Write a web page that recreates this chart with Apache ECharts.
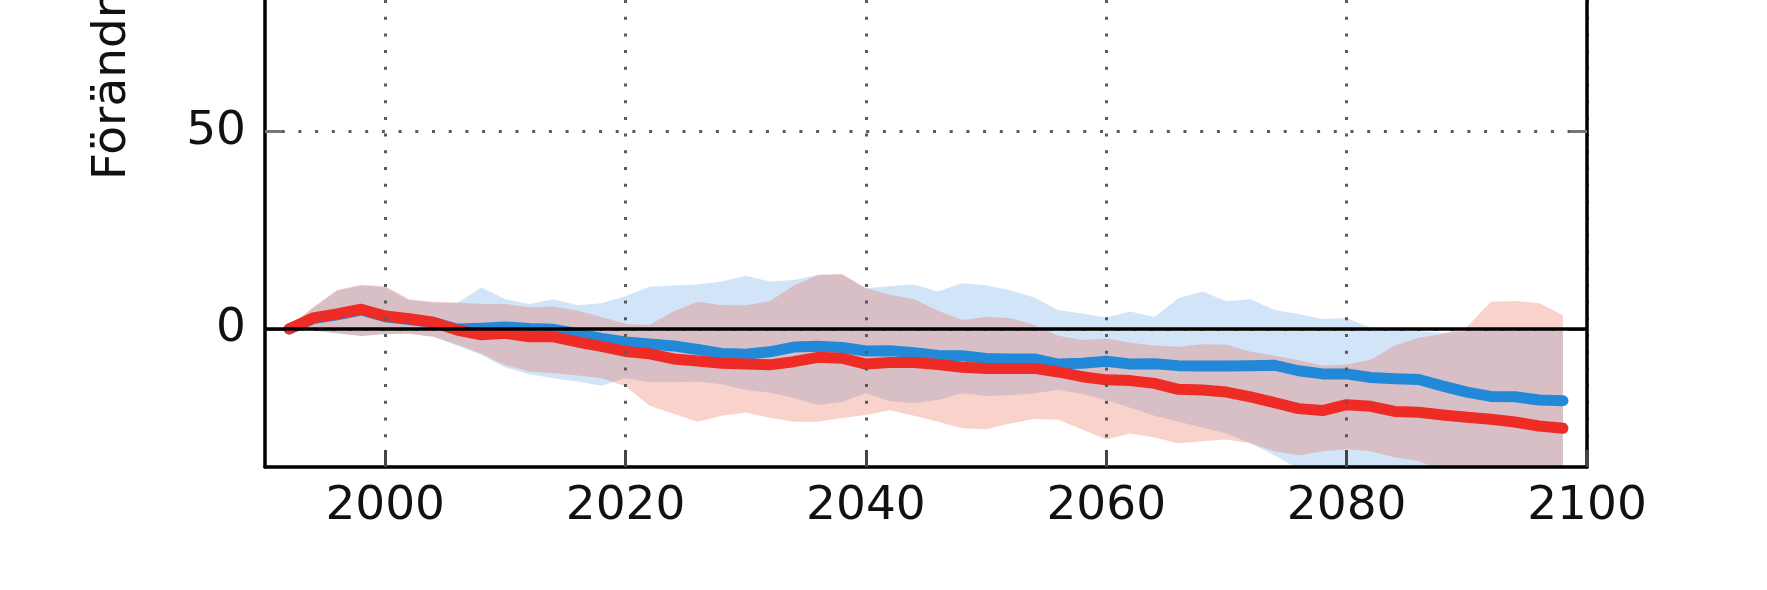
<!DOCTYPE html>
<html>
<head>
<meta charset="utf-8">
<script src="https://cdn.jsdelivr.net/npm/echarts@6/dist/echarts.min.js"></script>
<style>
html,body{margin:0;padding:0;background:#fff;}
#chart{width:1767px;height:590px;}
</style>
</head>
<body>
<div id="chart"></div>
<script>
// ---- data ----
const years = [1992,1994,1996,1998,2000,2002,2004,2006,2008,2010,2012,2014,2016,2018,2020,2022,2024,2026,2028,2030,2032,2034,2036,2038,2040,2042,2044,2046,2048,2050,2052,2054,2056,2058,2060,2062,2064,2066,2068,2070,2072,2074,2076,2078,2080,2082,2084,2086,2088,2090,2092,2094,2096,2098];
const redMean = [0.0,2.8,3.8,5.0,3.3,2.6,1.7,-0.3,-1.5,-1.1,-2.0,-2.0,-3.3,-4.4,-5.7,-6.3,-7.6,-8.1,-8.7,-8.9,-9.1,-8.3,-7.2,-7.4,-8.9,-8.5,-8.5,-9.0,-9.7,-10.0,-10.0,-10.0,-10.9,-12.1,-12.9,-13.1,-13.8,-15.3,-15.5,-16.0,-17.2,-18.7,-20.2,-20.7,-19.2,-19.6,-20.9,-21.1,-21.8,-22.4,-22.9,-23.6,-24.6,-25.2];
const blueMean = [0.0,2.6,3.6,4.8,3.1,2.4,1.6,0.0,0.2,0.5,0.1,-0.1,-1.2,-2.4,-3.3,-3.8,-4.3,-5.2,-6.2,-6.4,-5.8,-4.6,-4.4,-4.7,-5.6,-5.5,-6.0,-6.7,-6.8,-7.5,-7.6,-7.6,-8.9,-8.7,-8.2,-8.9,-8.8,-9.3,-9.4,-9.4,-9.3,-9.2,-10.6,-11.4,-11.4,-12.3,-12.6,-12.8,-14.5,-16.0,-17.1,-17.2,-18.0,-18.2];
const redHi = [0.5,5.5,9.9,11.2,10.8,7.5,6.9,6.7,6.3,6.3,5.5,5.7,4.6,3.0,1.3,1.0,4.5,6.9,6.0,6.0,7.0,11.0,13.7,14.0,10.3,8.7,7.5,4.6,2.3,3.0,2.8,1.0,-1.7,-2.8,-2.4,-3.5,-4.2,-4.5,-3.9,-4.0,-5.8,-6.8,-7.9,-9.3,-9.0,-7.8,-4.2,-2.2,-1.2,0.5,6.9,7.1,6.6,3.5];
const redLo = [-0.5,-0.4,-1.1,-1.8,-1.3,-1.2,-2.0,-4.0,-6.2,-9.2,-10.8,-11.2,-11.8,-12.5,-14.5,-19.5,-21.5,-23.5,-22.0,-21.2,-22.5,-23.5,-23.5,-22.6,-21.8,-20.6,-22.0,-23.5,-25.2,-25.4,-24.0,-22.8,-23.0,-25.5,-28.0,-26.5,-27.5,-29.0,-28.5,-28.0,-29.0,-31.0,-32.0,-31.0,-30.5,-31.0,-32.5,-33.5,-36.0,-38.0,-39.0,-39.0,-39.0,-39.0];
const blueHi = [0.5,5.3,9.7,11.0,10.6,7.3,6.7,6.6,10.5,7.5,6.3,7.5,6.0,6.5,8.3,10.7,11.0,11.3,12.0,13.5,12.0,12.4,13.7,13.8,10.3,10.8,11.3,9.5,11.6,11.1,9.8,8.0,4.8,3.9,2.9,4.4,3.0,7.8,9.5,7.0,7.5,4.8,3.8,2.5,2.8,0.3,-0.3,-0.5,-1.0,-0.6,-0.4,-0.4,-0.3,-0.3];
const blueLo = [-0.5,-0.4,-1.1,-1.8,-1.3,-1.2,-2.0,-4.2,-6.6,-9.8,-11.5,-12.5,-13.3,-14.4,-12.5,-13.5,-13.5,-13.3,-14.0,-15.5,-16.2,-17.5,-19.3,-18.5,-16.3,-18.3,-18.8,-18.0,-16.3,-17.0,-16.8,-16.3,-15.5,-16.5,-18.0,-20.0,-22.0,-23.5,-25.0,-26.5,-29.0,-32.0,-35.5,-37.0,-38.0,-38.0,-37.0,-35.5,-37.0,-39.0,-40.0,-40.0,-40.0,-40.0];
const xTicks = [2000,2020,2040,2060,2080,2100];
const yTicks = [0,50];
const yLabel = 'Förändring (%)';

// ---- chart ----
const chart = echarts.init(document.getElementById('chart'), null, {renderer:'canvas'});
const FONT = 'DejaVu Sans';

function pairs(vals){ return years.map((y,i)=>[y, vals[i]]); }

function bandSeries(lo, hi, color){
  return {
    type:'custom', coordinateSystem:'cartesian2d', silent:true, z:1,
    data:[[years[0], lo[0]]],
    renderItem:function(params, api){
      const pts = [];
      for (let i=0;i<years.length;i++) pts.push(api.coord([years[i], hi[i]]));
      for (let i=years.length-1;i>=0;i--) pts.push(api.coord([years[i], lo[i]]));
      const cs = params.coordSys;
      return {
        type:'polygon', shape:{points:pts}, style:{fill:color},
        clipPath:{type:'rect', shape:{x:cs.x, y:cs.y, width:cs.width, height:cs.height}}
      };
    }
  };
}

const dotted = {color:'#5a5a5a', width:3, type:[3,13.7]};

chart.setOption({
  animation:false,
  backgroundColor:'#fff',
  grid:{left:265, right:180, top:0, bottom:123, outerBoundsMode:'none', containLabel:false},
  xAxis:{
    type:'value', min:1990, max:2100, z:3,
    axisLine:{show:true, onZero:false, lineStyle:{color:'#000', width:3.5}},
    axisTick:{show:true, inside:true, length:17, customValues:xTicks, lineStyle:{color:'#444', width:3}},
    axisLabel:{customValues:xTicks, fontFamily:FONT, fontSize:47, color:'#111', margin:16,
               formatter:function(v){ return String(v); }},
    splitLine:{show:true, lineStyle:dotted}
  },
  yAxis:[{
    type:'value', min:-35, max:83.4, z:3, position:'left',
    axisLine:{show:true, onZero:false, lineStyle:{color:'#000', width:3.5}},
    axisTick:{show:true, inside:true, length:17, customValues:yTicks, lineStyle:{color:'#777', width:3}},
    axisLabel:{customValues:yTicks, fontFamily:FONT, fontSize:47, color:'#111', margin:19,
               formatter:function(v){ return String(v); }},
    splitLine:{show:true, lineStyle:dotted}
  },{
    type:'value', min:-35, max:83.4, z:3, position:'right',
    axisLine:{show:true, onZero:false, lineStyle:{color:'#000', width:3.5}},
    axisTick:{show:true, inside:true, length:17, customValues:yTicks, lineStyle:{color:'#777', width:3}},
    axisLabel:{show:false},
    splitLine:{show:false}
  }],
  graphic:[{
    type:'text', x:113, y:180, rotation:Math.PI/2, silent:true,
    style:{text:yLabel, font:'47px "DejaVu Sans"', fill:'#111', textAlign:'left', textVerticalAlign:'middle'}
  }],
  series:[
    bandSeries(blueLo, blueHi, 'rgba(60,140,220,0.23)'),
    bandSeries(redLo, redHi, 'rgba(232,85,55,0.26)'),
    {type:'line', data:pairs(blueMean), showSymbol:false, silent:true, z:2,
     lineStyle:{color:'#2288d8', width:11, cap:'round', join:'round'}},
    {type:'line', data:pairs(redMean), showSymbol:false, silent:true, z:2,
     lineStyle:{color:'#ee2b24', width:11, cap:'round', join:'round'},
     markLine:{silent:true, symbol:'none', z:5, label:{show:false},
       lineStyle:{color:'#000', width:3.5, type:'solid'},
       data:[{yAxis:0}]}}
  ]
});
</script>
</body>
</html>
